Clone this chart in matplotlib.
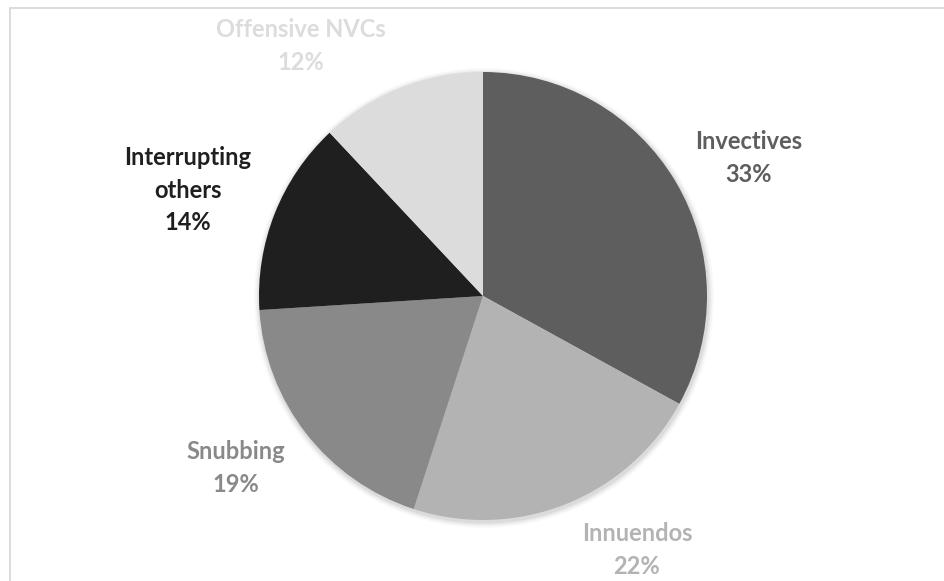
import matplotlib
matplotlib.use("Agg")
import matplotlib.pyplot as plt
from matplotlib.patches import Rectangle, Circle

categories = ["Invectives", "Innuendos", "Snubbing", "Interrupting\nothers", "Offensive NVCs"]
shares = [33, 22, 19, 14, 12]
colors = ["#5e5e5e", "#b3b3b3", "#898989", "#1f1f1f", "#dcdcdc"]

# label anchors in pixels measured from the top-left corner
label_pos = [(749, 158), (637, 550), (236, 468), (188, 190), (301, 46)]

W, H = 944, 581
fig = plt.figure(figsize=(W / 100, H / 100), dpi=100)
ax = fig.add_axes([0, 0, 1, 1])

cx, cy, r = 483, H - 296, 224

# soft shadow under the pie
for k, a in enumerate([0.05, 0.04, 0.03, 0.02]):
    ax.add_patch(Circle((cx + 1, cy - 2), r + 1.5 + k * 1.5, color="#000000",
                        alpha=a, lw=0, zorder=1))

wedges, _ = ax.pie(shares, colors=colors, startangle=90, counterclock=False,
                   center=(cx, cy), radius=r, frame=True,
                   wedgeprops=dict(linewidth=0, zorder=2))
ax.set_xlim(0, W)
ax.set_ylim(0, H)
ax.set_aspect("auto")
ax.axis("off")

for name, val, col, (x, y) in zip(categories, shares, colors, label_pos):
    ax.text(x, H - y, f"{name}\n{val}%", color=col, ha="center", va="center",
            fontsize=17, fontweight="bold", family="Lato",
            linespacing=1.5, zorder=5)

# chart area border
ax.add_patch(Rectangle((9.5, -10), W, H - 7.5 + 10, fill=False,
                       edgecolor="#d9d9d9", lw=1.3, zorder=6))

fig.savefig("out.png", dpi=100)
